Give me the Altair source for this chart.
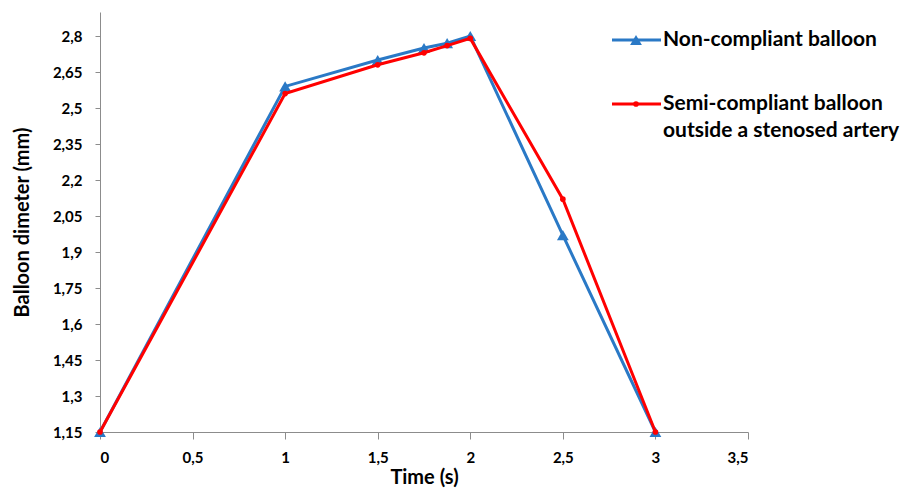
import altair as alt
import pandas as pd

# ---- data ----
time_s = [0, 1, 1.5, 1.75, 1.875, 2, 2.5, 3]
non_compliant = [1.15, 2.59, 2.70, 2.75, 2.77, 2.80, 1.97, 1.15]
semi_compliant = [1.15, 2.56, 2.68, 2.73, 2.76, 2.79, 2.12, 1.15]
series_names = ["Non-compliant balloon", "Semi-compliant balloon outside a stenosed artery"]
legend_labels = ["Non-compliant balloon", "Semi-compliant balloon\noutside a stenosed artery"]
x_ticks = [0, 0.5, 1, 1.5, 2, 2.5, 3, 3.5]
y_ticks = [1.15, 1.3, 1.45, 1.6, 1.75, 1.9, 2.05, 2.2, 2.35, 2.5, 2.65, 2.8]

BLUE = "#2a79c6"
RED = "#ff0000"
AXIS_GRAY = "#8c8c8c"
FONT = "Lato"

df = pd.DataFrame({
    "time": time_s + time_s,
    "dia": non_compliant + semi_compliant,
    "series": [series_names[0]] * len(time_s) + [series_names[1]] * len(time_s),
})

x = alt.X(
    "time:Q",
    scale=alt.Scale(domain=[0, 3.5], nice=False, zero=False),
    axis=alt.Axis(
        values=x_ticks,
        labelExpr="replace(format(datum.value, '.1~f'), '.', ',')",
        title="Time (s)",
        tickSize=7,
        labelPadding=11,
        titleY=45,
        titleBaseline="middle",
        grid=False,
    ),
)
y = alt.Y(
    "dia:Q",
    scale=alt.Scale(domain=[1.15, 2.9], nice=False, zero=False),
    axis=alt.Axis(
        values=y_ticks,
        labelExpr="replace(format(datum.value, '.2~f'), '.', ',')",
        title="Balloon dimeter (mm)",
        tickSize=5,
        labelPadding=13,
        titleX=-78,
        titleY=210,
        titleBaseline="middle",
        titleAlign="center",
        grid=False,
    ),
)

base = alt.Chart(df)
blue = base.transform_filter(alt.datum.series == series_names[0]).mark_line(
    color=BLUE, strokeWidth=3,
    point=alt.OverlayMarkDef(shape="triangle-up", size=140, filled=True, color=BLUE, opacity=1),
).encode(x=x, y=y)
red = base.transform_filter(alt.datum.series == series_names[1]).mark_line(
    color=RED, strokeWidth=3,
    point=alt.OverlayMarkDef(shape="circle", size=32, filled=True, color=RED, opacity=1),
).encode(x=x, y=y)

# ---- legend (drawn manually to match the layout) ----
def legend_item(label, color, shape, size, ypos):
    src = alt.Chart(pd.DataFrame({"label": [label]}))
    rule = src.mark_rule(color=color, strokeWidth=3).encode(
        x=alt.value(512), x2=alt.value(561), y=alt.value(ypos))
    pt = src.mark_point(shape=shape, filled=True, size=size, color=color, opacity=1).encode(
        x=alt.value(536), y=alt.value(ypos))
    txt = src.mark_text(
        align="left", baseline="middle", font=FONT, fontSize=21, fontWeight="bold",
        color="black", lineBreak="\n", lineHeight=27,
    ).encode(x=alt.value(563), y=alt.value(ypos), text="label:N")
    return [rule, pt, txt]

legend_layers = (
    legend_item(legend_labels[0], BLUE, "triangle-up", 140, 28)
    + legend_item(legend_labels[1], RED, "circle", 32, 92)
)

chart = alt.layer(blue, red, *legend_layers).properties(
    width=648,
    height=420,
    autosize=alt.AutoSizeParams(type="none"),
    padding={"left": 92, "top": 4, "right": 160, "bottom": 56},
).configure_axis(
    labelFont=FONT, labelFontSize=15, labelFontWeight="bold", labelColor="black",
    titleFont=FONT, titleFontSize=20, titleFontWeight="bold", titleColor="black",
    domainColor=AXIS_GRAY, tickColor=AXIS_GRAY, domainWidth=1, tickWidth=1,
).configure_view(stroke=None)

chart.save("out.html", embed_options={"renderer": "svg", "actions": False})
